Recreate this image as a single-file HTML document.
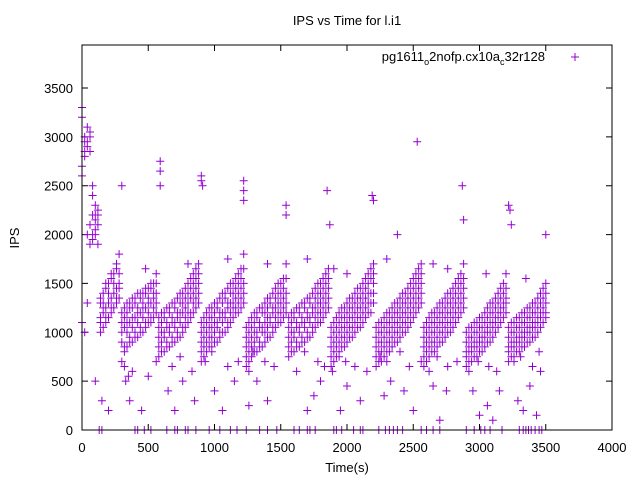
<!DOCTYPE html>
<html><head><meta charset="utf-8"><style>
body{margin:0;background:#fff}
svg{display:block;font-family:"Liberation Sans",sans-serif}
</style></head><body>
<svg id="chart" width="640" height="480" viewBox="0 0 640 480">
<rect width="640" height="480" fill="#fff"/>
<text x="347" y="25" font-size="13" text-anchor="middle">IPS vs Time for l.i1</text>
<text x="19" y="238" font-size="13" text-anchor="middle" transform="rotate(-90 19 238)">IPS</text>
<text x="347" y="472" font-size="13" text-anchor="middle">Time(s)</text>
<g id="axes"></g>
<g id="marks"></g>
<g>
<text x="545" y="61" font-size="13" text-anchor="end">pg1611<tspan font-size="9" dy="4">o</tspan><tspan dy="-4">2nofp.cx10a</tspan><tspan font-size="9" dy="4">c</tspan><tspan dy="-4">32r128</tspan></text>
<path d="M571 57h8M575 53v8" stroke="#9400d3" stroke-width="1"/>
</g>
<rect x="82" y="45" width="530" height="385" fill="none" stroke="#000" stroke-width="1"/>
</svg>
<script>
const xTicks=[0,500,1000,1500,2000,2500,3000,3500,4000];
const yTicks=[0,500,1000,1500,2000,2500,3000,3500];
const times=[0,20,40,60,80,100,120,140,160,180,200,220,240,260,280,300,320,340,360,380,400,420,440,460,480,500,520,540,560,580,600,620,640,660,680,700,720,740,760,780,800,820,840,860,880,900,920,940,960,980,1000,1020,1040,1060,1080,1100,1120,1140,1160,1180,1200,1220,1240,1260,1280,1300,1320,1340,1360,1380,1400,1420,1440,1460,1480,1500,1520,1540,1560,1580,1600,1620,1640,1660,1680,1700,1720,1740,1760,1780,1800,1820,1840,1860,1880,1900,1920,1940,1960,1980,2000,2020,2040,2060,2080,2100,2120,2140,2160,2180,2200,2220,2240,2260,2280,2300,2320,2340,2360,2380,2400,2420,2440,2460,2480,2500,2520,2540,2560,2580,2600,2620,2640,2660,2680,2700,2720,2740,2760,2780,2800,2820,2840,2860,2880,2900,2920,2940,2960,2980,3000,3020,3040,3060,3080,3100,3120,3140,3160,3180,3200,3220,3240,3260,3280,3300,3320,3340,3360,3380,3400,3420,3440,3460,3480,3500];
const lowVals=[1100,1000,1300,1900,2000,2050,2100,
1000,1050,1100,1150,1200,1250,1300,1350,
700,800,850,900,900,950,950,1000,1000,1050,1100,1100,1150,1200,
750,800,800,850,850,900,900,950,950,1000,1050,1100,1150,1200,1250,1300,
700,750,800,850,850,900,900,950,1000,1000,1050,1100,1150,1200,1200,1250,1300,
650,700,750,800,800,850,850,900,950,950,1000,1050,1100,1100,1150,1200,
750,800,800,850,850,900,900,950,950,1000,1050,1100,1100,1150,1200,1250,
650,700,750,800,850,850,900,950,950,1000,1050,1050,1100,1150,1200,1200,1300,
650,700,700,750,800,800,850,900,900,950,1000,1000,1050,1100,1150,1200,1250,1300,
650,700,750,800,800,850,900,900,950,1000,1000,1050,1100,1150,1200,1250,
650,700,700,750,750,800,800,850,900,900,950,1000,1050,1100,1150,1200,
700,750,750,800,800,850,850,900,900,950,950,1000,1050,1100,1150];
const lowMidVals=[2600,2950,2000,2100,1950,2000,1900,
1100,1250,1150,1300,1250,1400,1350,1450,
900,850,1000,950,1050,1000,1100,1050,1150,1100,1200,1150,1250,1300,
850,900,950,900,1000,950,1050,1000,1100,1050,1150,1200,1200,1300,1350,1400,
800,850,900,950,950,1000,1050,1000,1100,1150,1100,1200,1250,1250,1300,1350,1400,
750,800,850,900,950,900,1000,1000,1050,1100,1050,1150,1200,1200,1250,1300,
850,900,950,900,1000,950,1050,1000,1100,1050,1150,1200,1200,1250,1300,1350,
750,800,850,900,950,950,1000,1050,1050,1100,1150,1150,1200,1250,1300,1300,1400,
750,800,800,850,900,900,950,1000,1000,1050,1100,1100,1150,1200,1250,1300,1350,1400,
750,800,850,900,900,950,1000,1000,1050,1100,1100,1150,1200,1250,1300,1350,
750,800,800,850,850,900,900,950,1000,1000,1050,1100,1150,1200,1250,1300,
800,850,850,900,900,950,950,1000,1000,1050,1050,1100,1150,1200,1200];
const midVals=[2700,2800,2900,2850,2200,2150,2250,
1150,1200,1250,1300,1350,1400,1450,1500,
1000,1050,1100,1100,1150,1150,1200,1200,1250,1250,1300,1300,1350,1400,
950,1000,1000,1050,1050,1100,1100,1150,1200,1200,1250,1300,1350,1400,1450,1500,
900,950,1000,1050,1050,1100,1100,1150,1200,1200,1250,1300,1300,1350,1400,1450,1500,
850,900,950,1000,1000,1050,1050,1100,1150,1150,1200,1250,1300,1300,1350,1400,
950,1000,1000,1050,1050,1100,1100,1150,1150,1200,1250,1300,1300,1350,1400,1450,
850,900,950,1000,1050,1050,1100,1150,1150,1200,1250,1250,1300,1350,1400,1400,1500,
850,900,900,950,1000,1000,1050,1100,1100,1150,1200,1200,1250,1300,1350,1400,1450,1500,
850,900,950,1000,1000,1050,1100,1100,1150,1200,1200,1250,1300,1350,1400,1450,
800,850,850,900,900,950,950,1000,1050,1100,1100,1150,1200,1250,1300,1350,
850,900,900,950,950,1000,1000,1050,1050,1100,1100,1150,1200,1250,1300];
const midHighVals=[3200,2850,2950,3000,2400,2200,2100,
1350,1300,1500,1400,1600,1500,1650,1600,
1100,1150,1200,1250,1250,1300,1250,1350,1300,1400,1350,1450,1400,1500,
1050,1100,1150,1100,1200,1150,1250,1200,1300,1300,1350,1400,1450,1500,1550,1600,
1000,1050,1100,1150,1150,1200,1250,1200,1300,1350,1300,1400,1400,1450,1500,1550,1650,
950,1000,1050,1100,1150,1100,1200,1200,1250,1300,1250,1350,1400,1400,1450,1550,
1050,1100,1150,1100,1200,1150,1250,1200,1300,1250,1350,1400,1400,1450,1500,1550,
950,1000,1050,1100,1150,1150,1200,1250,1250,1300,1350,1350,1400,1450,1500,1550,1600,
950,1000,1000,1050,1100,1100,1150,1200,1200,1250,1300,1300,1350,1400,1450,1500,1550,1600,
950,1000,1050,1100,1100,1150,1200,1200,1250,1300,1300,1350,1400,1450,1500,1550,
900,950,950,1000,1000,1050,1050,1100,1150,1200,1200,1250,1300,1350,1400,1450,
950,1000,1000,1050,1050,1100,1100,1150,1150,1200,1200,1250,1300,1350,1400];
const highVals=[3300,3000,3100,3050,2500,2300,2200,
1300,1400,1450,1500,1550,1600,1700,1800,
1200,1250,1300,1300,1350,1350,1400,1400,1400,1450,1450,1500,1500,1600,
1150,1200,1200,1250,1250,1300,1300,1350,1400,1400,1450,1500,1550,1600,1650,1700,
1100,1150,1200,1250,1250,1300,1300,1350,1400,1400,1450,1500,1500,1550,1600,1650,1800,
1050,1100,1150,1200,1200,1250,1250,1300,1350,1350,1400,1450,1500,1500,1550,1700,
1150,1200,1200,1250,1250,1300,1300,1350,1350,1400,1450,1500,1500,1550,1600,1650,
1050,1100,1150,1200,1250,1250,1300,1350,1350,1400,1450,1450,1500,1550,1600,1650,1700,
1050,1100,1100,1150,1200,1200,1250,1300,1300,1350,1400,1400,1450,1500,1550,1600,1650,1700,
1050,1100,1150,1200,1200,1250,1300,1300,1350,1400,1400,1450,1500,1550,1600,1700,
1000,1050,1050,1100,1100,1150,1150,1200,1250,1300,1300,1350,1400,1450,1500,1600,
1050,1100,1100,1150,1150,1200,1200,1250,1250,1300,1300,1350,1400,1450,1500];
const zeroTimes=[130,150,400,420,470,520,640,700,720,780,800,860,960,1040,1120,1170,1240,1340,1400,1470,1600,1640,1700,1720,1760,1900,1920,1960,2050,2100,2120,2240,2290,2320,2350,2380,2420,2560,2600,2650,2700,2900,2960,3010,3040,3080,3170,3300,3330,3350,3370,3390,3420,3450,3470];
const outlierTimes=[300,590,590,590,900,900,910,1220,1220,1220,1540,1540,1850,1870,2190,2200,2380,2530,2870,2880,3220,3230,3240,3500,100,150,200,330,360,380,450,500,650,700,760,850,1000,1060,1150,1260,1320,1400,1700,1750,1800,1950,2000,2100,2280,2330,2430,2500,2650,2700,2750,2950,3000,3060,3100,3150,3290,3330,3380,3430,3460,
320,350,560,620,680,740,830,930,980,1100,1180,1260,1290,1380,1450,1560,1620,1680,1780,1830,1890,1940,1990,2060,2150,2250,2300,2400,2470,2560,2620,2680,2760,2830,2920,2990,3070,3130,3260,3310,3400,3450,
480,800,1100,1400,1700,1900,2000,2300,2650,2760,3050,3350];
const outlierVals=[2500,2750,2650,2500,2600,2550,2500,2550,2450,2350,2300,2200,2450,2100,2400,2350,2000,2950,2500,2150,2300,2250,2100,2000,500,300,200,500,300,600,200,550,400,200,500,300,400,200,500,250,500,300,200,350,500,200,450,300,350,500,400,200,450,100,400,400,150,250,100,400,300,200,450,150,600,
650,550,700,800,650,750,600,700,800,650,700,600,800,700,650,750,600,800,700,650,600,750,700,650,600,750,700,800,650,700,600,750,650,700,600,700,650,600,700,750,650,800,
1650,1700,1750,1700,1750,1650,1600,1750,1700,1650,1600,1550];

const NS='http://www.w3.org/2000/svg';
const X=v=>82+v*530/4000;
const Y=v=>430-v*385/3940;
const axes=document.getElementById('axes');
const marks=document.getElementById('marks');
xTicks.forEach(t=>{
  const p=document.createElementNS(NS,'path');
  p.setAttribute('d',`M${X(t)} 430v-6M${X(t)} 45v6`);
  p.setAttribute('stroke','#000');
  
  
  axes.appendChild(p);
  const l=document.createElementNS(NS,'text');
  l.setAttribute('x',X(t));l.setAttribute('y',452);
  l.setAttribute('font-size','13');l.setAttribute('text-anchor','middle');
  l.textContent=t;
  
  
  axes.appendChild(l);
});
yTicks.forEach(t=>{
  const p=document.createElementNS(NS,'path');
  p.setAttribute('d',`M82 ${Y(t)}h6M612 ${Y(t)}h-6`);
  p.setAttribute('stroke','#000');
  
  
  axes.appendChild(p);
  const l=document.createElementNS(NS,'text');
  l.setAttribute('x',73);l.setAttribute('y',Y(t)+5);
  l.setAttribute('font-size','13');l.setAttribute('text-anchor','end');
  l.textContent=t;
  
  
  axes.appendChild(l);
});
let d='';
function add(t,v){const x=X(t),y=Y(v);d+=`M${(x-4).toFixed(1)} ${y.toFixed(1)}h8M${x.toFixed(1)} ${(y-4).toFixed(1)}v8`;}
times.forEach((t,i)=>{
  add(t,lowVals[i]);add(t,lowMidVals[i]);add(t,midVals[i]);add(t,midHighVals[i]);add(t,highVals[i]);
});
zeroTimes.forEach(t=>add(t,0));
outlierTimes.forEach((t,i)=>add(t,outlierVals[i]));
const path=document.createElementNS(NS,'path');
path.setAttribute('d',d);
path.setAttribute('stroke','#9400d3');
path.setAttribute('stroke-width','1');
path.setAttribute('fill','none');


marks.appendChild(path);
</script>
</body></html>
